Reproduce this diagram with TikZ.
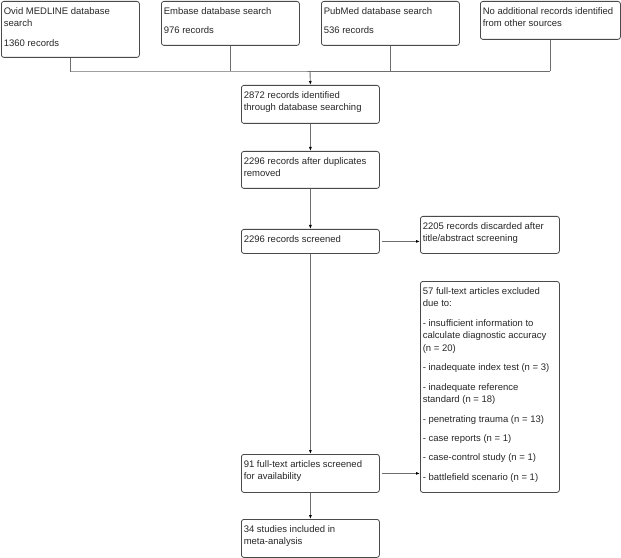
\documentclass[tikz,border=0pt]{standalone}
\usepackage{fontspec}
\setmainfont{Liberation Sans}
\usetikzlibrary{arrows.meta}
\definecolor{boxline}{HTML}{4A4A4A}
\definecolor{conn}{HTML}{6E6E6E}
\definecolor{txtc}{HTML}{262626}
\newcommand{\bxt}[3]{\parbox[t][#2][t]{#1}{\fontsize{9.5bp}{12.7bp}\selectfont\setlength{\parskip}{6.6bp}\raggedright\rule{0pt}{9.6bp}#3}}
\tikzset{
  box/.style={draw=boxline, line width=0.8bp, rounded corners=2.5bp, anchor=north west,
    inner xsep=2.4bp, inner ysep=3.2bp, text=txtc, align=left},
  conline/.style={draw=conn, line width=0.9bp},
  arr/.style={conline, -{Latex[length=4bp,width=3bp,color=black]}},
}
\begin{document}
\begin{tikzpicture}[x=1bp,y=-1bp]
\useasboundingbox (0,0) rectangle (621,558);
% top boxes
\node[box] (ovid) at (1,1) {\bxt{133.2bp}{49.6bp}{Ovid MEDLINE database\newline search\par 1360 records}};
\node[box] (embase) at (161,1) {\bxt{133.2bp}{37.6bp}{Embase database search\par 976 records}};
\node[box] (pubmed) at (321,1) {\bxt{133.2bp}{37.6bp}{PubMed database search\par 536 records}};
\node[box] (other) at (480,1) {\bxt{135.2bp}{31.6bp}{No additional records identified\newline from other sources}};
\node[box] (ident) at (241,85) {\bxt{133.2bp}{31.6bp}{2872 records identified\newline through database searching}};
\node[box] (dup) at (241,151) {\bxt{133.2bp}{30.6bp}{2296 records after duplicates\newline removed}};
\node[box] (screen) at (241,229) {\bxt{133.2bp}{17.6bp}{2296 records screened}};
\node[box] (disc) at (420,216) {\bxt{134.2bp}{30.6bp}{2205 records discarded after\newline title/abstract screening}};
\node[box] (excl) at (420,281) {\bxt{134.2bp}{204.6bp}{57 full-text articles excluded\newline due to:\par
- insufficient information to\newline calculate diagnostic accuracy\newline (n = 20)\par
- inadequate index test (n = 3)\par
- inadequate reference\newline standard (n = 18)\par
- penetrating trauma (n = 13)\par
- case reports (n = 1)\par
- case-control study (n = 1)\par
- battlefield scenario (n = 1)}};
\node[box] (full) at (241,454) {\bxt{133.2bp}{31.6bp}{91 full-text articles screened\newline for availability}};
\node[box] (incl) at (241,519) {\bxt{133.2bp}{31.6bp}{34 studies included in\newline meta-analysis}};
% merge line
\coordinate (jl) at (70,71);
\coordinate (jr) at (550,71);
\coordinate (jm) at (310,71);
\draw[conline] (ovid.south) |- (jl) -- (jr);
\draw[conline] (embase.south) -- (embase.south |- jl);
\draw[conline] (pubmed.south) -- (pubmed.south |- jl);
\draw[conline] (other.south) -- (other.south |- jr);
\draw[arr] (jm) -- (ident.north);
\draw[arr] (ident) -- (dup);
\draw[arr] (dup) -- (screen);
\draw[arr] (screen) -- (full);
\draw[arr] (full) -- (incl);
\draw[arr] ([xshift=2bp]screen.east) -- (screen.east -| disc.west);
\draw[arr] ([xshift=2bp]full.east) -- (full.east -| excl.west);
\end{tikzpicture}
\end{document}
